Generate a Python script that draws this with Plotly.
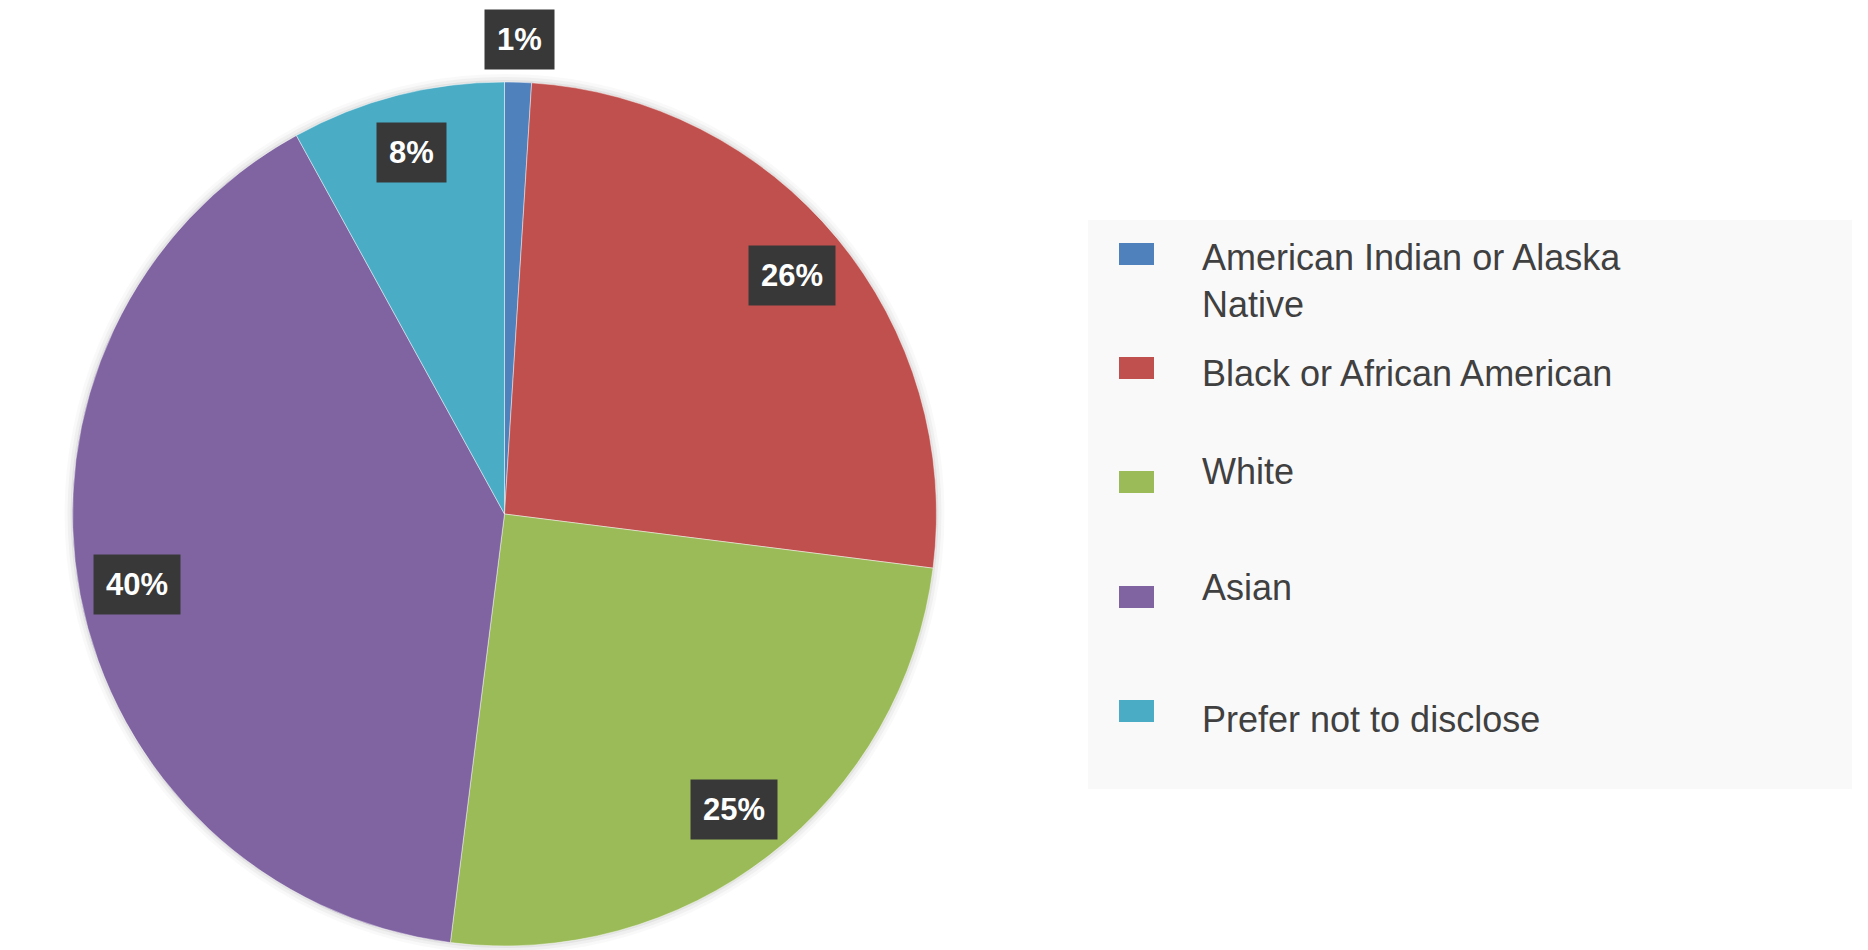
import math
import plotly.graph_objects as go

# ---- data ----
categories = ["American Indian or Alaska Native", "Black or African American",
              "White", "Asian", "Prefer not to disclose"]
legend_labels = ["American Indian or Alaska<br>Native", "Black or African American",
                 "White", "Asian", "Prefer not to disclose"]
values = [1, 26, 25, 40, 8]
colors = ["#4F81BD", "#C0504D", "#9BBB59", "#8064A2", "#4BACC6"]

# ---- layout constants (pixels) ----
W, H = 1868, 950
CX, CY, R = 504.5, 514, 432
LABEL_IN, LABEL_OUT = 0.865, 1.10
LEG_BOX = (1088, 220, 1852, 789)
SQ_X = (1119, 1154)
SQ_H = 22
SQ_Y = [254, 368, 482, 597, 711]
TXT_X = 1200
TXT_Y = [281, 373, 471, 587, 719]


def px(x):
    return x / W


def py(y):
    return 1 - y / H


fig = go.Figure()
fig.add_trace(go.Pie(
    labels=categories, values=values, sort=False, direction="clockwise",
    rotation=0, marker=dict(colors=colors, line=dict(color="rgba(255,255,255,0.45)", width=1)),
    textinfo="none", hoverinfo="label+percent", showlegend=False,
    domain=dict(x=[px(CX - R), px(CX + R)], y=[py(CY + R), py(CY - R)]),
))

shapes = []
# faint halo around the pie
for k, a in [(8, 0.025), (5, 0.035), (2, 0.05)]:
    shapes.append(dict(type="circle", xref="paper", yref="paper", layer="below",
                       x0=px(CX - R - k), x1=px(CX + R + k),
                       y0=py(CY + R + k), y1=py(CY - R - k),
                       fillcolor=f"rgba(0,0,0,{a})", line=dict(width=0)))
# legend background
shapes.append(dict(type="rect", xref="paper", yref="paper", layer="below",
                   x0=px(LEG_BOX[0]), x1=px(LEG_BOX[2]),
                   y0=py(LEG_BOX[3]), y1=py(LEG_BOX[1]),
                   fillcolor="#F9F9F9", line=dict(width=0)))
for i, c in enumerate(colors):
    shapes.append(dict(type="rect", xref="paper", yref="paper",
                       x0=px(SQ_X[0]), x1=px(SQ_X[1]),
                       y0=py(SQ_Y[i] + SQ_H / 2), y1=py(SQ_Y[i] - SQ_H / 2),
                       fillcolor=c, line=dict(width=0)))

annotations = []
total = sum(values)
cum = 0
for v in values:
    frac = v / total
    mid = (cum + v / 2) / total * 2 * math.pi
    cum += v
    f = LABEL_OUT if frac < 0.03 else LABEL_IN
    lx = CX + f * R * math.sin(mid)
    ly = CY - f * R * math.cos(mid)
    annotations.append(dict(
        x=px(lx), y=py(ly), xref="paper", yref="paper", showarrow=False,
        xanchor="center", yanchor="middle",
        text=f"<b>{round(frac * 100)}%</b>",
        font=dict(family="Liberation Sans, Arial, sans-serif", size=31, color="#FFFFFF"),
        bgcolor="#383838", borderpad=12,
    ))

for i, lab in enumerate(legend_labels):
    annotations.append(dict(
        x=px(TXT_X), y=py(TXT_Y[i]), xref="paper", yref="paper", showarrow=False,
        xanchor="left", yanchor="middle", align="left", text=lab,
        font=dict(family="Liberation Sans, Arial, sans-serif", size=36, color="#404040"),
    ))

fig.update_layout(
    width=W, height=H, margin=dict(l=0, r=0, t=0, b=0),
    paper_bgcolor="#FFFFFF", plot_bgcolor="#FFFFFF",
    shapes=shapes, annotations=annotations, showlegend=False,
)

fig.write_html("out.html", config={"displayModeBar": False})
